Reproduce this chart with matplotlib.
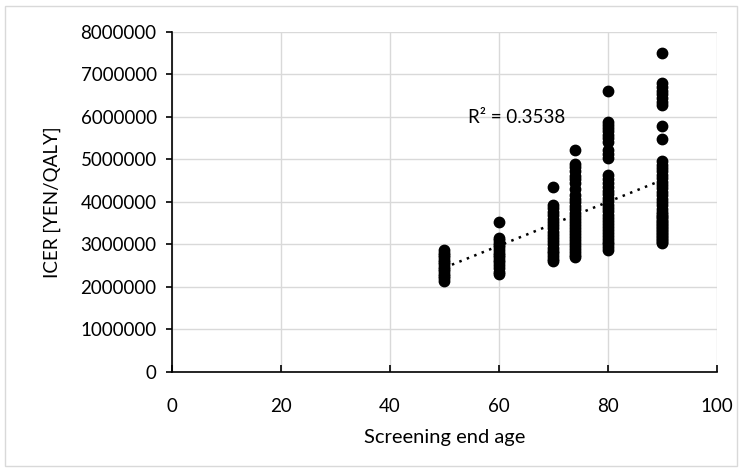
import matplotlib
matplotlib.use("Agg")
import matplotlib.pyplot as plt
import numpy as np

plt.rcParams['font.family'] = ['Lato', 'DejaVu Sans']

# screening end age groups and ICER values
ages = [50, 60, 70, 74, 80, 90]
icer_50 = [2150000, 2200000, 2260000, 2310000, 2370000, 2420000, 2480000, 2530000,
           2590000, 2640000, 2700000, 2750000, 2810000, 2860000]
icer_60 = [2300000, 2360000, 2440000, 2510000, 2580000, 2640000, 2700000, 2760000,
           2810000, 2870000, 2930000, 2990000, 3040000, 3100000, 3160000, 3520000]
icer_70 = [2600000, 2660000, 2720000, 2790000, 2850000, 2920000, 3000000, 3080000,
           3150000, 3230000, 3300000, 3380000, 3450000, 3530000, 3610000, 3690000,
           3770000, 3850000, 3930000, 4350000]
icer_74 = [2700000, 2760000, 2830000, 2900000, 2970000, 3040000, 3110000, 3180000,
           3250000, 3320000, 3390000, 3460000, 3530000, 3600000, 3670000, 3750000,
           3830000, 3910000, 4000000, 4080000, 4170000, 4300000, 4440000, 4530000,
           4620000, 4720000, 4830000, 4900000, 5220000]
icer_80 = [2870000, 2930000, 3000000, 3070000, 3140000, 3210000, 3280000, 3350000,
           3420000, 3490000, 3560000, 3630000, 3700000, 3780000, 3860000, 3940000,
           4020000, 4100000, 4180000, 4270000, 4360000, 4450000, 4540000, 4630000,
           5030000, 5120000, 5220000, 5420000, 5500000, 5580000, 5660000, 5740000,
           5820000, 5890000, 6620000]
icer_90 = [3030000, 3060000, 3100000, 3140000, 3170000, 3210000, 3240000, 3280000,
           3310000, 3350000, 3380000, 3420000, 3450000, 3490000, 3520000, 3560000,
           3600000, 3640000, 3680000, 3720000, 3760000, 3840000, 3920000, 4000000,
           4080000, 4160000, 4240000, 4320000, 4400000, 4480000, 4560000, 4640000,
           4720000, 4800000, 4880000, 4960000, 5480000, 5790000, 6280000, 6350000,
           6440000, 6530000, 6620000, 6710000, 6800000, 7500000]
r2_label = 'R² = 0.3538'

groups = [icer_50, icer_60, icer_70, icer_74, icer_80, icer_90]
x = np.concatenate([[a] * len(g) for a, g in zip(ages, groups)])
y = np.concatenate(groups)

fig = plt.figure(figsize=(7.42, 4.72), dpi=100)
ax = fig.add_axes([0.2318, 0.2119, 0.9663 - 0.2318, 0.9322 - 0.2119])

# grid behind the data
ax.grid(True, color='#d9d9d9', linewidth=1)
ax.set_axisbelow(True)

ax.scatter(x, y, s=56, color='black', zorder=3)

# linear trend line, dotted
k, b = np.polyfit(x, y, 1)
xt = np.array([min(ages), max(ages)])
ax.plot(xt, k * xt + b, color='black', linestyle=(0, (1, 2.2)), linewidth=1.8, zorder=4)

ax.text(54.3, 5980000, r2_label, fontsize=13.5, va='center', ha='left')

ax.set_xlim(0, 100)
ax.set_ylim(0, 8000000)
ax.set_xticks(range(0, 101, 20))
ax.set_yticks(range(0, 8000001, 1000000))
ax.set_yticklabels([str(v) for v in range(0, 8000001, 1000000)])

for s in ['top', 'right']:
    ax.spines[s].set_visible(False)
for s in ['left', 'bottom']:
    ax.spines[s].set_color('black')
    ax.spines[s].set_linewidth(1.2)

ax.tick_params(axis='y', direction='out', length=4, width=1.2, labelsize=13.5, pad=7)
ax.tick_params(axis='x', direction='in', length=5, width=1.2, labelsize=13.5, pad=19)

ax.set_xlabel('Screening end age', fontsize=14.5, labelpad=10)
ax.set_ylabel('ICER [YEN/QALY]', fontsize=13.5, labelpad=14)

# light outer frame like the chart area border
fig.patches.append(plt.Rectangle((0.007, 0.012), 0.986, 0.976, transform=fig.transFigure,
                                 fill=False, edgecolor='#d9d9d9', linewidth=1))

fig.savefig('out.png', dpi=100)
